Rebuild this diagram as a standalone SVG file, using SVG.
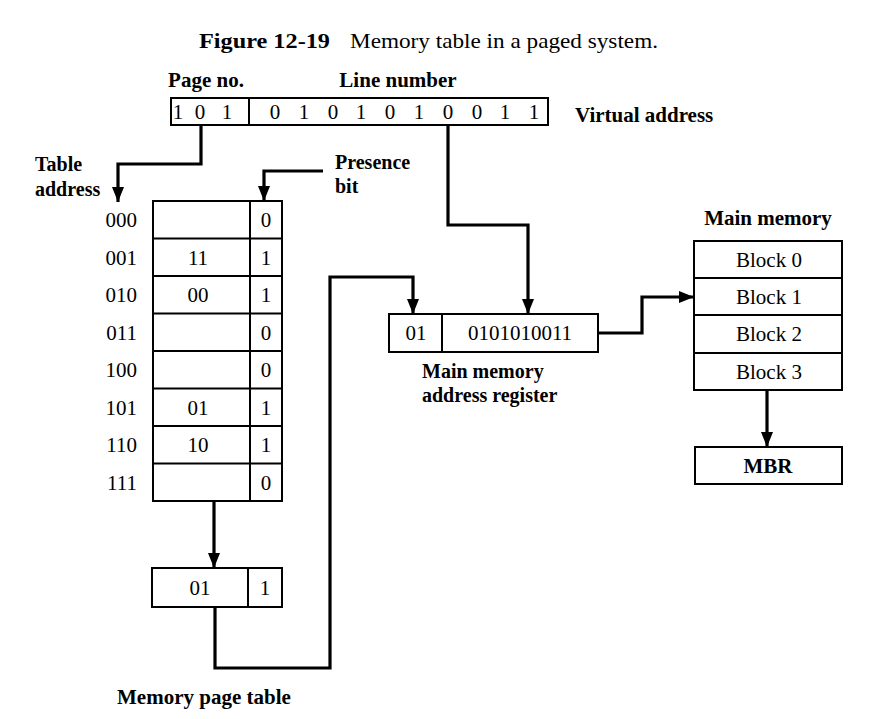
<svg xmlns="http://www.w3.org/2000/svg" width="883" height="719" viewBox="0 0 883 719">
<style>
  .box { fill: #fff; stroke: #000; stroke-width: 2; }
  .ln { fill: none; stroke: #000; stroke-width: 2; }
  .conn { fill: none; stroke: #000; stroke-width: 3.2; stroke-linejoin: miter; }
  .t { font-family: "Liberation Serif", "Times New Roman", serif; font-size: 21px; fill: #000; }
  .s { font-size: 20px; }
  .b { font-weight: bold; }
  .c { text-anchor: middle; }
  .r { text-anchor: end; }
</style>
<defs>
  <marker id="arr" markerUnits="userSpaceOnUse" markerWidth="16" markerHeight="12" refX="15" refY="6" orient="auto">
    <path d="M0,0 L15,6 L0,12 z" fill="#000"/>
  </marker>
</defs>
<rect width="883" height="719" fill="#fff"/>

<g id="title">
  <text class="t b" x="199" y="48" textLength="131" lengthAdjust="spacingAndGlyphs">Figure 12-19</text>
  <text class="t" x="350" y="48" textLength="308" lengthAdjust="spacingAndGlyphs">Memory table in a paged system.</text>
</g>

<g id="connectors">
  <path class="conn" d="M201,125 V164 H118 V202" marker-end="url(#arr)"/>
  <path class="conn" d="M323,171 H264 V201" marker-end="url(#arr)"/>
  <path class="conn" d="M448,125 V225 H528 V314" marker-end="url(#arr)"/>
  <path class="conn" d="M214,501 V568" marker-end="url(#arr)"/>
  <path class="conn" d="M215,607 V668 H330 V277 H413 V314" marker-end="url(#arr)"/>
  <path class="conn" d="M598,333 H642 V297 H694" marker-end="url(#arr)"/>
  <path class="conn" d="M767,390 V447" marker-end="url(#arr)"/>
</g>

<g id="virtual-address">
  <rect class="box" x="171" y="98" width="377" height="27"/>
  <line class="ln" x1="249" y1="98" x2="249" y2="125"/>
  <text class="t c" y="119"><tspan x="178">1</tspan><tspan x="200">0</tspan><tspan x="227">1</tspan></text>
  <text class="t c" y="119"><tspan x="275">0</tspan><tspan x="304">1</tspan><tspan x="333">0</tspan><tspan x="361">1</tspan><tspan x="390">0</tspan><tspan x="419">1</tspan><tspan x="448">0</tspan><tspan x="477">0</tspan><tspan x="505">1</tspan><tspan x="534">1</tspan></text>
  <text class="t b c" x="206" y="87">Page no.</text>
  <text class="t b c" x="398" y="87">Line number</text>
  <text class="t b" x="575" y="122">Virtual address</text>
</g>

<g id="labels-left">
  <text class="t b s" x="35" y="171">Table</text>
  <text class="t b s" x="35" y="196">address</text>
  <text class="t b s" x="335" y="169">Presence</text>
  <text class="t b s" x="335" y="193">bit</text>
</g>

<g id="page-table">
  <rect class="box" x="153" y="201" width="129" height="300"/>
  <line class="ln" x1="250" y1="201" x2="250" y2="501"/>
  <line class="ln" x1="153" y1="238.5" x2="282" y2="238.5"/>
  <line class="ln" x1="153" y1="276" x2="282" y2="276"/>
  <line class="ln" x1="153" y1="313.5" x2="282" y2="313.5"/>
  <line class="ln" x1="153" y1="351" x2="282" y2="351"/>
  <line class="ln" x1="153" y1="388.5" x2="282" y2="388.5"/>
  <line class="ln" x1="153" y1="426" x2="282" y2="426"/>
  <line class="ln" x1="153" y1="463.5" x2="282" y2="463.5"/>
  <g class="t r">
    <text x="137" y="227">000</text>
    <text x="137" y="265">001</text>
    <text x="137" y="302">010</text>
    <text x="137" y="340">011</text>
    <text x="137" y="377">100</text>
    <text x="137" y="415">101</text>
    <text x="137" y="452">110</text>
    <text x="137" y="490">111</text>
  </g>
  <g class="t c">
    <text x="198" y="265">11</text>
    <text x="198" y="302">00</text>
    <text x="198" y="415">01</text>
    <text x="198" y="452">10</text>
    <text x="266" y="227">0</text>
    <text x="266" y="265">1</text>
    <text x="266" y="302">1</text>
    <text x="266" y="340">0</text>
    <text x="266" y="377">0</text>
    <text x="266" y="415">1</text>
    <text x="266" y="452">1</text>
    <text x="266" y="490">0</text>
  </g>
</g>

<g id="selected-entry">
  <rect class="box" x="152" y="568" width="130" height="39"/>
  <line class="ln" x1="248" y1="568" x2="248" y2="607"/>
  <text class="t c" x="200" y="595">01</text>
  <text class="t c" x="265" y="595">1</text>
  <text class="t b" x="117" y="704">Memory page table</text>
</g>

<g id="address-register">
  <rect class="box" x="389" y="314" width="209" height="38"/>
  <line class="ln" x1="442" y1="314" x2="442" y2="352"/>
  <text class="t c" x="416" y="340">01</text>
  <text class="t c" x="520" y="340">0101010011</text>
  <text class="t b s" x="422" y="378">Main memory</text>
  <text class="t b s" x="422" y="402">address register</text>
</g>

<g id="main-memory">
  <text class="t b c" x="768" y="225">Main memory</text>
  <rect class="box" x="694" y="241" width="148" height="149"/>
  <line class="ln" x1="694" y1="278" x2="842" y2="278"/>
  <line class="ln" x1="694" y1="315" x2="842" y2="315"/>
  <line class="ln" x1="694" y1="353" x2="842" y2="353"/>
  <g class="t c">
    <text x="769" y="267">Block 0</text>
    <text x="769" y="304">Block 1</text>
    <text x="769" y="341">Block 2</text>
    <text x="769" y="379">Block 3</text>
  </g>
</g>

<g id="mbr">
  <rect class="box" x="695" y="447" width="147" height="37"/>
  <text class="t b c" x="768" y="473">MBR</text>
</g>
</svg>
